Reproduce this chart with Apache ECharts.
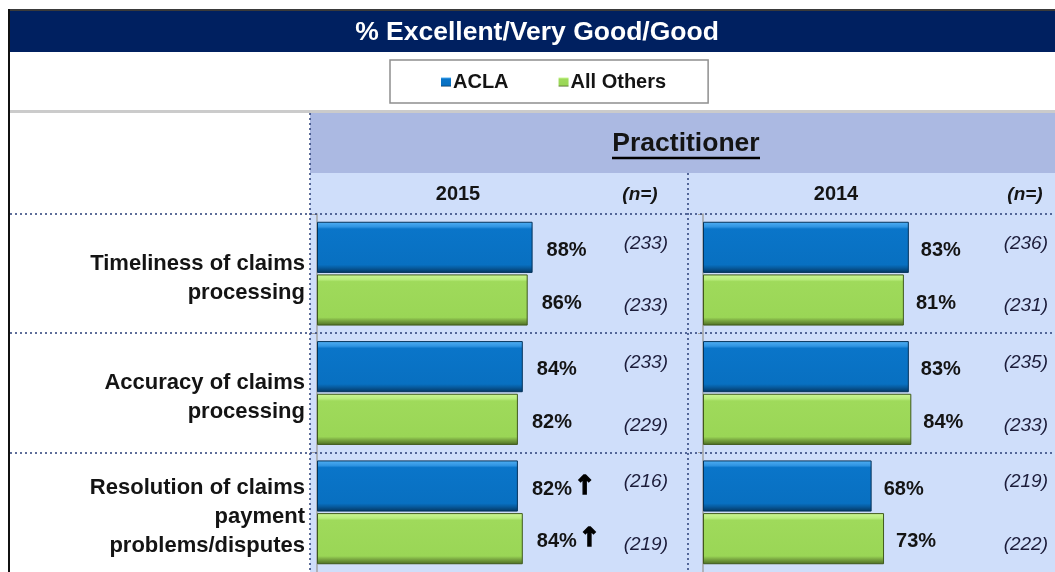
<!DOCTYPE html>
<html>
<head>
<meta charset="utf-8">
<title>% Excellent/Very Good/Good</title>
<script src="https://cdn.jsdelivr.net/npm/echarts@6.0.0/dist/echarts.min.js"></script>
<style>
  html, body { margin: 0; padding: 0; background: #fff; }
  #chart { width: 1055px; height: 572px; }
</style>
</head>
<body>
<div id="chart"></div>
<script>
// values
const categories = [
  'Timeliness of claims\nprocessing',
  'Accuracy of claims\nprocessing',
  'Resolution of claims\npayment\nproblems/disputes'
];
const years = ['2015', '2014'];
const acla2015 = [88, 84, 82];
const others2015 = [86, 82, 84];
const acla2014 = [83, 83, 68];
const others2014 = [81, 84, 73];
const nAcla2015 = [233, 233, 216];
const nOthers2015 = [233, 229, 219];
const nAcla2014 = [236, 235, 219];
const nOthers2014 = [231, 233, 222];
// significant increase markers (arrow next to the value)
const upAcla2015 = [false, false, true];
const upOthers2015 = [false, false, true];
const upAcla2014 = [false, false, false];
const upOthers2014 = [false, false, false];

const FONT = '"Liberation Sans", Arial, sans-serif';
const INK = '#141414';

const blueFill = new echarts.graphic.LinearGradient(0, 0, 0, 1, [
  { offset: 0, color: '#52b0f4' },
  { offset: 0.1, color: '#2f94e2' },
  { offset: 0.14, color: '#0a75c9' },
  { offset: 0.84, color: '#0870c1' },
  { offset: 0.9, color: '#075ca0' },
  { offset: 1, color: '#04365f' }
]);
const greenFill = new echarts.graphic.LinearGradient(0, 0, 0, 1, [
  { offset: 0, color: '#cdf796' },
  { offset: 0.1, color: '#b8ec7c' },
  { offset: 0.14, color: '#9fda5b' },
  { offset: 0.84, color: '#9ad656' },
  { offset: 0.9, color: '#7ba942' },
  { offset: 1, color: '#4b6b22' }
]);

const chart = echarts.init(document.getElementById('chart'));

function barSeries(name, data, up, axis, fill, border) {
  return {
    type: 'bar',
    name: name,
    xAxisIndex: axis,
    yAxisIndex: axis,
    data: data,
    barCategoryGap: '13%',
    barGap: '3%',
    itemStyle: { color: fill, borderColor: border, borderWidth: 1 },
    label: {
      show: true,
      position: 'right',
      distance: axis === 0 ? 14 : 12,
      offset: [0, 3],
      formatter: p => up[p.dataIndex] ? '{v|' + p.value + '%}{a|↑}' : '{v|' + p.value + '%}',
      rich: {
        v: { fontFamily: FONT, fontSize: 20, fontWeight: 'bold', color: INK },
        a: {
          fontFamily: 'DejaVu Sans', fontSize: 26, fontWeight: 'bold', color: '#000',
          textBorderColor: '#000', textBorderWidth: 1.4, padding: [0, 0, 4, 2]
        }
      }
    },
    emphasis: { disabled: true }
  };
}

// (n=) column, placed at a fixed x right of each panel
const nRight = [668, 1048];
function nSeries(axis, nA, nO) {
  return {
    type: 'custom',
    xAxisIndex: axis,
    yAxisIndex: axis,
    silent: true,
    data: categories.map((c, i) => [0, i, nA[i], nO[i]]),
    encode: { x: 0, y: 1 },
    renderItem: (params, api) => {
      const cy = api.coord([0, api.value(1)])[1];
      const band = api.size([0, 1])[1];
      const bw = band * 0.87 / 2.03;
      const off = bw * 1.03 / 2;
      const st = { fontFamily: FONT, fontSize: 19, fontStyle: 'italic', fill: '#1c1c3a', align: 'right', verticalAlign: 'middle' };
      return {
        type: 'group',
        children: [
          { type: 'text', style: Object.assign({ text: '(' + api.value(2) + ')', x: nRight[axis], y: cy - off - 4 }, st) },
          { type: 'text', style: Object.assign({ text: '(' + api.value(3) + ')', x: nRight[axis], y: cy + off + 6 }, st) }
        ]
      };
    }
  };
}

const dotted = { stroke: '#2b3f78', lineWidth: 1.5, lineDash: [2, 3] };
function hLine(y) {
  return { type: 'line', z: 1, shape: { x1: 10, y1: y, x2: 1055, y2: y }, style: dotted };
}
function vLine(x, y1) {
  return { type: 'line', z: 1, shape: { x1: x, y1: y1, x2: x, y2: 572 }, style: dotted };
}
function txt(text, x, y, size, extra) {
  return {
    type: 'text', z: 10,
    style: Object.assign({ text: text, x: x, y: y, fontFamily: FONT, fontSize: size, fontWeight: 'bold', fill: INK, align: 'center', verticalAlign: 'middle' }, extra || {})
  };
}

const yAxisBase = {
  type: 'category',
  data: categories,
  inverse: true,
  axisLine: { show: true, lineStyle: { color: '#a3a3a3', width: 1.5 } },
  axisTick: { show: true, length: 5, lineStyle: { color: '#a3a3a3' } },
  splitLine: { show: false }
};

const option = {
  animation: false,
  backgroundColor: '#fff',
  textStyle: { fontFamily: FONT },
  grid: [
    { left: 317, top: 214, width: 245, height: 358 },
    { left: 703, top: 214, width: 248, height: 358 }
  ],
  xAxis: [
    { type: 'value', gridIndex: 0, min: 0, max: 100, show: false },
    { type: 'value', gridIndex: 1, min: 0, max: 100, show: false }
  ],
  yAxis: [
    Object.assign({ gridIndex: 0, axisLabel: {
      margin: 12, align: 'right',
      // small spacer line on top pushes the block a few px down, as in the source
      formatter: v => '{s| }\n' + v.split('\n').map(l => '{t|' + l + '}').join('\n'),
      rich: {
        s: { fontSize: 1, lineHeight: 9 },
        t: { fontFamily: FONT, fontSize: 22, fontWeight: 'bold', color: INK, lineHeight: 29, align: 'right' }
      }
    } }, yAxisBase),
    Object.assign({ gridIndex: 1, axisLabel: { show: false } }, yAxisBase)
  ],
  legend: {
    data: ['ACLA', 'All Others'],
    left: 390,
    top: 60,
    width: 317,
    padding: [12, 42, 11, 51],
    itemWidth: 10,
    itemHeight: 9,
    itemGap: 50,
    icon: 'rect',
    itemStyle: { borderWidth: 0 },
    borderColor: '#8f8f8f',
    borderWidth: 1.5,
    backgroundColor: '#fff',
    selectedMode: false,
    textStyle: { fontFamily: FONT, fontSize: 20, fontWeight: 'bold', color: INK, padding: [0, 0, 0, -3] }
  },
  graphic: [
    // frame and title bar
    { type: 'rect', z: 0, shape: { x: 8, y: 9, width: 1047, height: 2 }, style: { fill: '#3a3a3a' } },
    { type: 'rect', z: 0, shape: { x: 8, y: 9, width: 2, height: 563 }, style: { fill: '#111' } },
    { type: 'rect', z: 0, shape: { x: 10, y: 11, width: 1045, height: 41 }, style: { fill: '#002060' } },
    { type: 'rect', z: 0, shape: { x: 10, y: 110, width: 1045, height: 3 }, style: { fill: '#cbcbcb' } },
    // panel backgrounds
    { type: 'rect', z: 0, shape: { x: 310, y: 113, width: 745, height: 60 }, style: { fill: '#abb9e2' } },
    { type: 'rect', z: 0, shape: { x: 310, y: 173, width: 745, height: 399 }, style: { fill: '#cfdefa' } },
    hLine(214), hLine(333), hLine(453),
    vLine(310, 113), vLine(688, 173),
    txt('% Excellent/Very Good/Good', 537, 33, 26.5, { fill: '#fff' }),
    txt('Practitioner', 686, 144, 26.5),
    { type: 'line', z: 10, shape: { x1: 612, y1: 158, x2: 760, y2: 158 }, style: { stroke: '#000', lineWidth: 2.5 } },
    txt(years[0], 458, 194, 20),
    txt('(n=)', 640, 195, 19, { fontStyle: 'italic' }),
    txt(years[1], 836, 194, 20),
    txt('(n=)', 1025, 195, 19, { fontStyle: 'italic' })
  ],
  series: [
    barSeries('ACLA', acla2015, upAcla2015, 0, blueFill, '#04325a'),
    barSeries('All Others', others2015, upOthers2015, 0, greenFill, '#3f5a1c'),
    barSeries('ACLA', acla2014, upAcla2014, 1, blueFill, '#04325a'),
    barSeries('All Others', others2014, upOthers2014, 1, greenFill, '#3f5a1c'),
    nSeries(0, nAcla2015, nOthers2015),
    nSeries(1, nAcla2014, nOthers2014)
  ]
};

chart.setOption(option);
</script>
</body>
</html>
